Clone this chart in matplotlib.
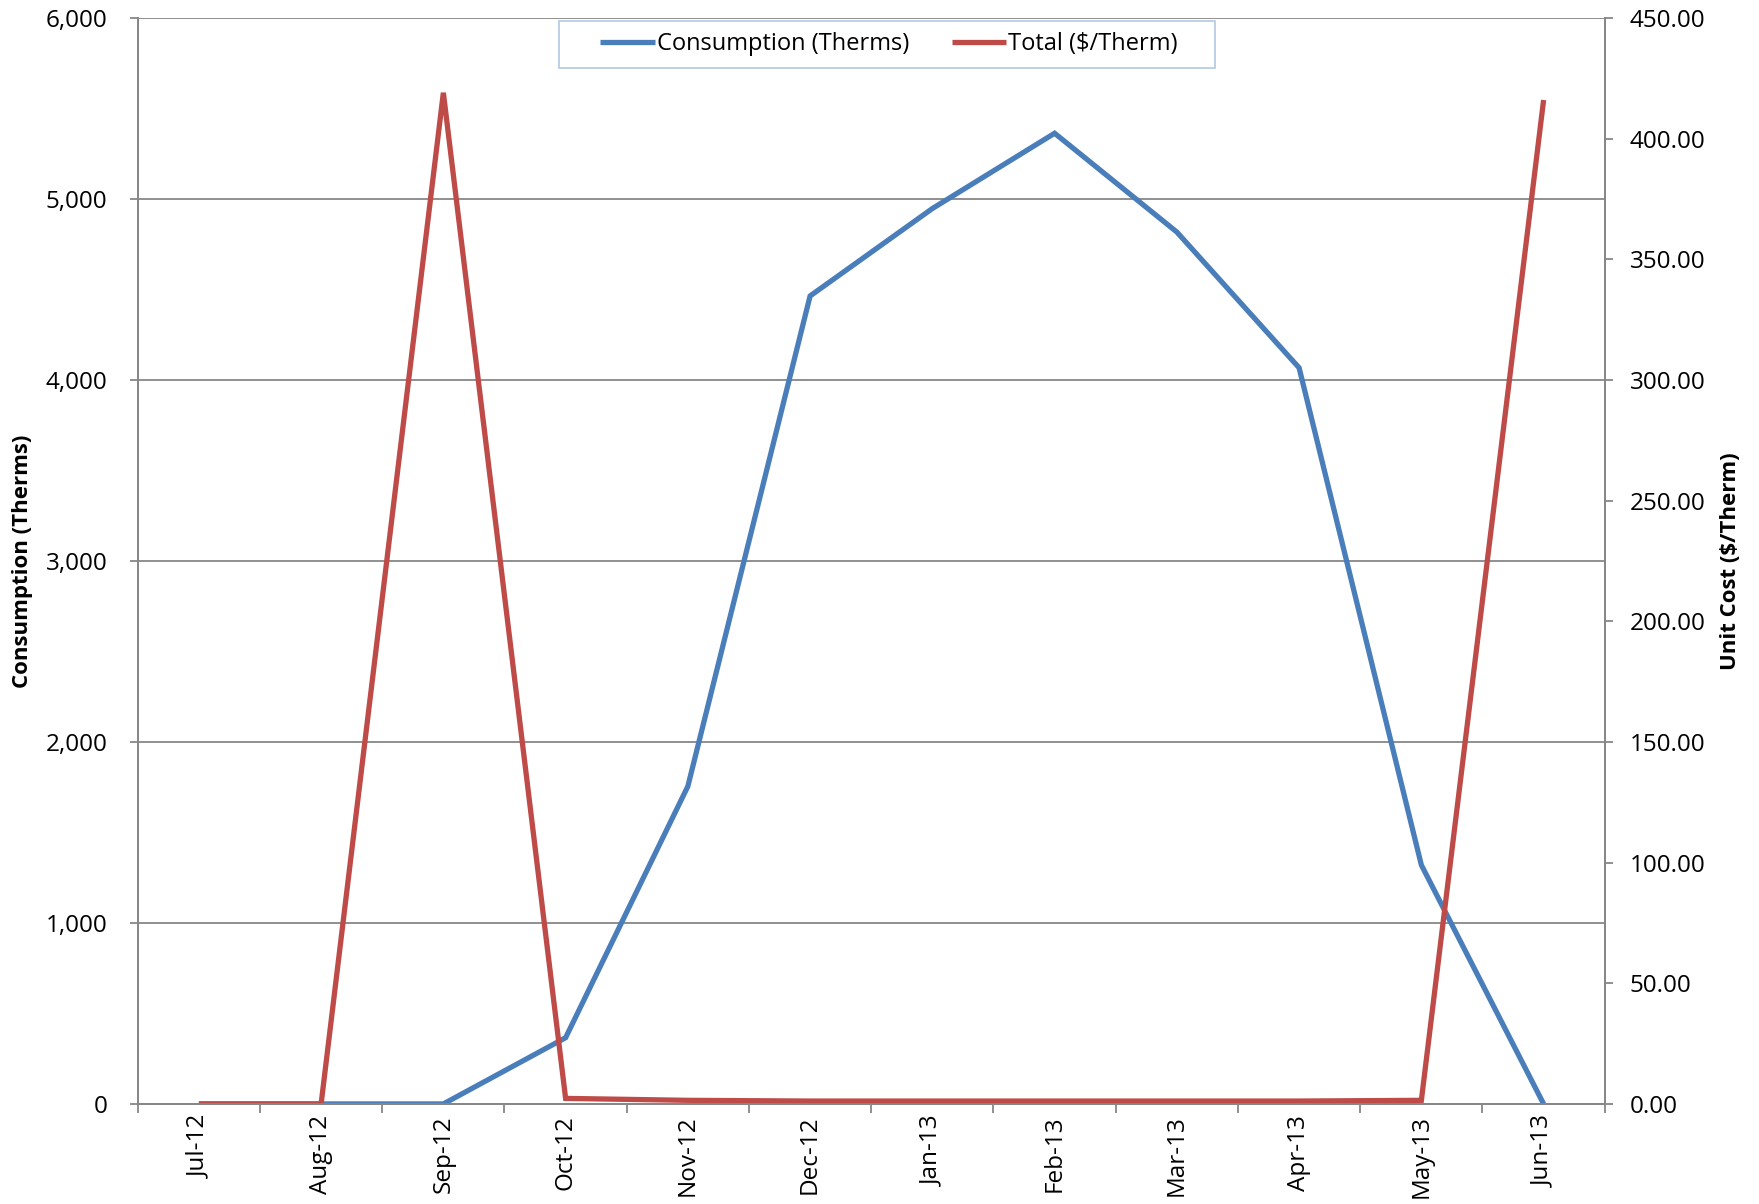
import matplotlib.pyplot as plt
from matplotlib.patches import Rectangle
from matplotlib.ticker import FuncFormatter, MultipleLocator

plt.rcParams['font.family'] = ['Open Sans', 'DejaVu Sans']

# Monthly gas data
months = ['Jul-12', 'Aug-12', 'Sep-12', 'Oct-12', 'Nov-12', 'Dec-12',
          'Jan-13', 'Feb-13', 'Mar-13', 'Apr-13', 'May-13', 'Jun-13']
consumption = [0, 0, 0, 366, 1755, 4464, 4947, 5363, 4817, 4067, 1320, 0]
unit_cost = [0.0, 0.0, 419.0, 2.3, 1.5, 1.2, 1.2, 1.2, 1.2, 1.2, 1.5, 416.0]

blue = '#4a7ebb'
red = '#be4b48'
grey = '#878787'

W, H = 1759, 1204
fig = plt.figure(figsize=(W / 100, H / 100), dpi=100)
ax = fig.add_axes([0.0783, 0.0831, 0.834, 0.902])
ax2 = ax.twinx()

x = range(len(months))
l1, = ax.plot(x, consumption, color=blue, lw=3.8, solid_joinstyle='miter',
              solid_capstyle='butt', label='Consumption (Therms)')
l2, = ax2.plot(x, unit_cost, color=red, lw=3.8, solid_joinstyle='miter',
               solid_capstyle='butt', label='Total ($/Therm)')

# left axis
ax.set_xlim(-0.5, len(months) - 0.5)
ax.set_ylim(0, 6000)
ax.yaxis.set_major_locator(MultipleLocator(1000))
ax.yaxis.set_major_formatter(FuncFormatter(lambda v, p: f'{v:,.0f}'))
ax.grid(axis='y', color=grey, lw=1.3)
ax.set_axisbelow(True)

# right axis
ax2.set_ylim(0, 450)
ax2.yaxis.set_major_locator(MultipleLocator(50))
ax2.yaxis.set_major_formatter(FuncFormatter(lambda v, p: f'{v:.2f}'))

# month labels centred, tick marks between months
ax.set_xticks(list(x))
ax.set_xticklabels(months, rotation=90)
ax.set_xticks([i - 0.5 for i in range(len(months) + 1)], minor=True)
ax.tick_params(axis='x', which='major', length=0, pad=8, labelsize=17.5)
ax.tick_params(axis='x', which='minor', length=6.5, width=1.3, color=grey)
ax.tick_params(axis='y', length=5.8, width=1.3, color=grey, pad=16, labelsize=17.5)
ax2.tick_params(axis='y', length=5.8, width=1.3, color=grey, pad=12, labelsize=17.5)

for a in (ax, ax2):
    a.spines['top'].set_visible(False)
    for s in ('left', 'right', 'bottom'):
        a.spines[s].set_color(grey)
        a.spines[s].set_linewidth(1.3)

ax.set_ylabel('Consumption (Therms)', fontsize=16, fontweight='bold')
ax2.set_ylabel('Unit Cost ($/Therm)', fontsize=16, fontweight='bold')
ax.yaxis.set_label_coords((33 - 137.7) / 1467, 0.5)
ax2.yaxis.set_label_coords((1720 - 137.7) / 1467, 0.5)

# legend box
fig.patches.append(Rectangle((559 / W, 1 - 68 / H), 656 / W, 47 / H,
                             transform=fig.transFigure, fill=False,
                             edgecolor='#b9cde5', lw=1.3))
leg = fig.legend(handles=[l1, l2], loc='center', ncol=2,
                 bbox_to_anchor=((559 + 656 / 2 + 2) / W, 1 - 44.5 / H),
                 fontsize=17, frameon=False, handlelength=2.3,
                 handletextpad=0.1, columnspacing=1.8, borderpad=0)

plt.savefig('out.png', dpi=100)
